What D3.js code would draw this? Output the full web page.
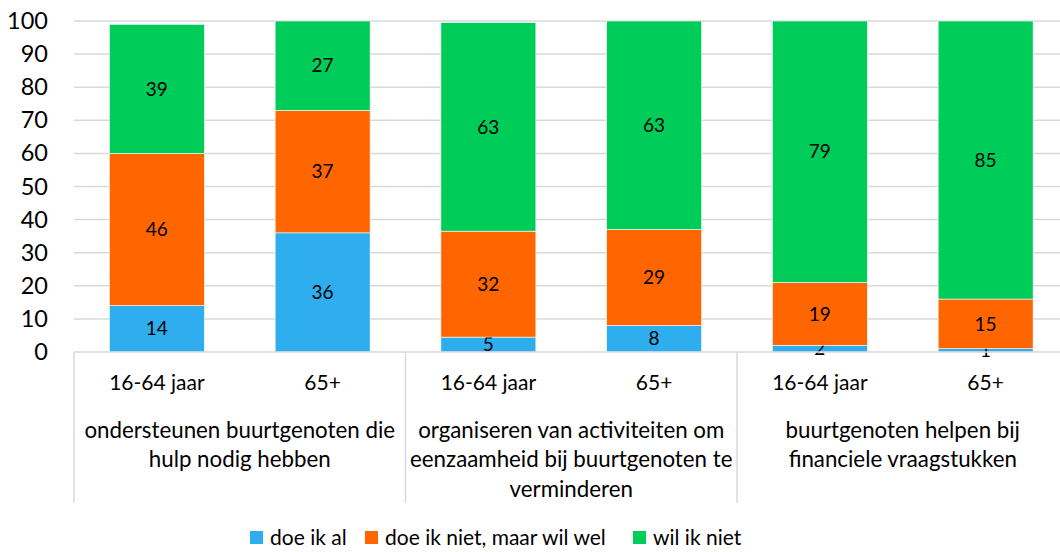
<!DOCTYPE html>
<html><head><meta charset="utf-8">
<script src="https://cdn.jsdelivr.net/npm/d3@7"></script>
<style>html,body{margin:0;padding:0;background:#fff}svg{display:block}text{font-family:Lato,"Open Sans",sans-serif;fill:#000}</style>
</head><body><svg id="c" width="1060" height="552"></svg>
<script>
const categories = ["16-64 jaar","65+","16-64 jaar","65+","16-64 jaar","65+"];
const groups = [
  ["ondersteunen buurtgenoten die","hulp nodig hebben"],
  ["organiseren van activiteiten om","eenzaamheid bij buurtgenoten te","verminderen"],
  ["buurtgenoten helpen bij","financiele vraagstukken"]
];
const seriesNames = ["doe ik al","doe ik niet, maar wil wel","wil ik niet"];
const doeIkAl = [14, 36, 4.5, 8, 2, 1];
const wilWel = [46, 37, 32, 29, 19, 15];
const wilNiet = [39, 27, 63, 63, 79, 85];
const yTicks = [0,10,20,30,40,50,60,70,80,90,100];
const colors = ["#2EAEEE","#FF6600","#00CC5A"];

(function(){
const svg = d3.select("#c");
const pL = 74, pR = 1068.5, pT = 21, pB = 352;
const x = d3.scaleBand().domain(d3.range(categories.length)).range([pL,pR]).paddingInner(0.427).paddingOuter(0.2135);
const y = d3.scaleLinear().domain([0,100]).range([pB,pT]).clamp(true);
const grid = "#d9d9d9";

svg.append("g").selectAll("line").data(yTicks.filter(d=>d>0)).join("line")
  .attr("x1",pL).attr("x2",pR).attr("y1",d=>y(d)).attr("y2",d=>y(d))
  .attr("stroke",grid).attr("stroke-width",1.5);

const ya = svg.append("g").attr("transform",`translate(${pL},0)`)
  .call(d3.axisLeft(y).tickValues(yTicks).tickSize(0).tickPadding(26));
ya.select(".domain").remove();
ya.selectAll("text").style("font-size","23.5px").style("font-family","Lato,sans-serif").attr("fill","#000");

const data = categories.map((c,i)=>({i, s0:doeIkAl[i], s1:wilWel[i], s2:wilNiet[i]}));
const stack = d3.stack().keys(["s0","s1","s2"])(data);
stack.forEach((layer,k)=>{
  const g = svg.append("g");
  g.selectAll("rect").data(layer).join("rect")
    .attr("x",d=>x(d.data.i)).attr("width",x.bandwidth())
    .attr("y",d=>y(d[1])).attr("height",d=>y(d[0])-y(d[1]))
    .attr("fill",colors[k]).attr("stroke","#fff").attr("stroke-width",0.6);
  g.selectAll("text").data(layer).join("text")
    .attr("x",d=>x(d.data.i)+x.bandwidth()/2)
    .attr("y",d=>(y(d[0])+y(d[1]))/2)
    .attr("dy","0.35em").attr("text-anchor","middle")
    .style("font-size","19px")
    .text(d=>Math.round(d[1]-d[0]));
});

svg.append("line").attr("x1",pL).attr("x2",pR).attr("y1",pB).attr("y2",pB).attr("stroke",grid).attr("stroke-width",1.5);
const step = x.step();
const seps = [0,2,4,6].map(i=> pL + i*step);
svg.append("g").selectAll("line").data(seps).join("line")
  .attr("x1",d=>d).attr("x2",d=>d).attr("y1",pB).attr("y2",503)
  .attr("stroke",grid).attr("stroke-width",1.5);

svg.append("g").selectAll("text").data(categories).join("text")
  .attr("x",(d,i)=>x(i)+x.bandwidth()/2).attr("y",383).attr("dy","0.35em")
  .attr("text-anchor","middle").style("font-size","21px").text(d=>d);

groups.forEach((lines,gi)=>{
  const cx = pL + (gi*2+1)*step;
  svg.append("g").selectAll("text").data(lines).join("text")
    .attr("x",cx).attr("y",(d,j)=>430+j*29.5).attr("dy","0.35em")
    .attr("text-anchor","middle").style("font-size","22.3px").text(d=>d);
});

const legX = [250,365,633];
const lg = svg.append("g");
seriesNames.forEach((n,k)=>{
  lg.append("rect").attr("x",legX[k]).attr("y",531).attr("width",13).attr("height",13).attr("fill",colors[k]);
  lg.append("text").attr("x",legX[k]+20).attr("y",538).attr("dy","0.35em").style("font-size","21px").text(n);
});
})();
</script></body></html>
